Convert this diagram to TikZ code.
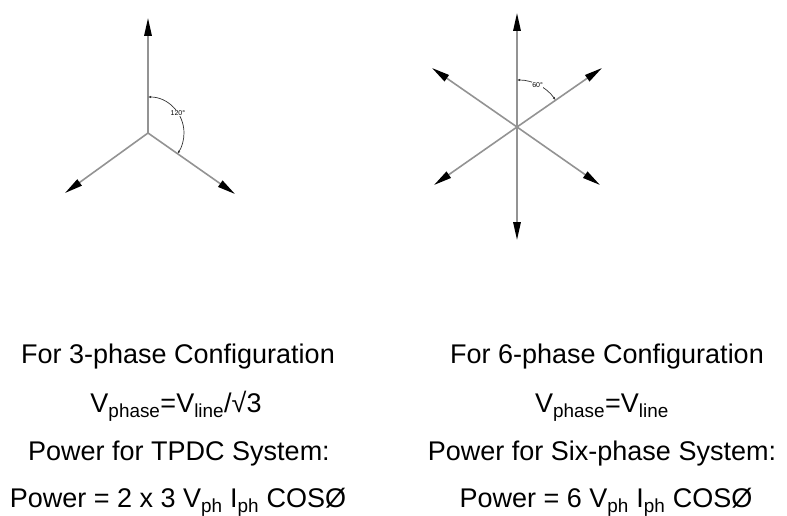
\documentclass[tikz,border=0pt]{standalone}
\usepackage{fontspec}
\setmainfont{Liberation Sans}
\usepackage{tikz}
\usetikzlibrary{arrows.meta,positioning,calc}

\begin{document}
\begin{tikzpicture}[x=1pt,y=1pt,
    phasor/.style={draw=gray!85, line width=1.6pt, -{Triangle[length=18pt,width=7.5pt,black]}},
    angarc/.style={draw=black!80, line width=0.7pt, {Latex[length=3pt,width=2.5pt]}-{Latex[length=3pt,width=2.5pt]}},
    anglbl/.style={fill=white, inner sep=0.5pt, font=\fontsize{7}{8}\selectfont},
    caption/.style={anchor=base, font=\fontsize{27}{31}\selectfont}]
    \useasboundingbox (0,0) rectangle (787,515);
    % 3-phase star
    \coordinate (o3) at (148,382);
    \coordinate (a3) at (148,497);
    \coordinate (b3) at (65,322);
    \coordinate (c3) at (235,321);
    \foreach \t in {a3,b3,c3} \draw[phasor] (o3) -- (\t);
    \draw[angarc] ($(o3)+(90:36)$) arc[start angle=90, end angle=-35, radius=36];
    \node[anglbl] (ang3) at ($(o3)+(34:36)$) {120°};
    % 6-phase star
    \coordinate (o6) at (517,388);
    \coordinate (a6) at (517,502);
    \coordinate (b6) at (602,447);
    \coordinate (c6) at (600,330);
    \coordinate (d6) at (517,275);
    \coordinate (e6) at (434,330);
    \coordinate (f6) at (432,447);
    \foreach \t in {a6,b6,c6,d6,e6,f6} \draw[phasor] (o6) -- (\t);
    \draw[angarc] ($(o6)+(90:47)$) arc[start angle=90, end angle=35, radius=47];
    \node[anglbl] (ang6) at ($(o6)+(64:47)$) {60°};
    % text
    \node[caption] (t3a) at (178,152) {For 3-phase Configuration};
    \node[caption] (t3b) at (176,103) {V\textsubscript{phase}=V\textsubscript{line}/√3};
    \node[caption] (t3c) at (179,55) {Power for TPDC System:};
    \node[caption] (t3d) at (178,8) {Power = 2 x 3 V\textsubscript{ph} I\textsubscript{ph} COSØ};
    \node[caption] (t6a) at (607,152) {For 6-phase Configuration};
    \node[caption] (t6b) at (602,103) {V\textsubscript{phase}=V\textsubscript{line}};
    \node[caption] (t6c) at (602,55) {Power for Six-phase System:};
    \node[caption] (t6d) at (606,8) {Power = 6 V\textsubscript{ph} I\textsubscript{ph} COSØ};
\end{tikzpicture}
\end{document}
